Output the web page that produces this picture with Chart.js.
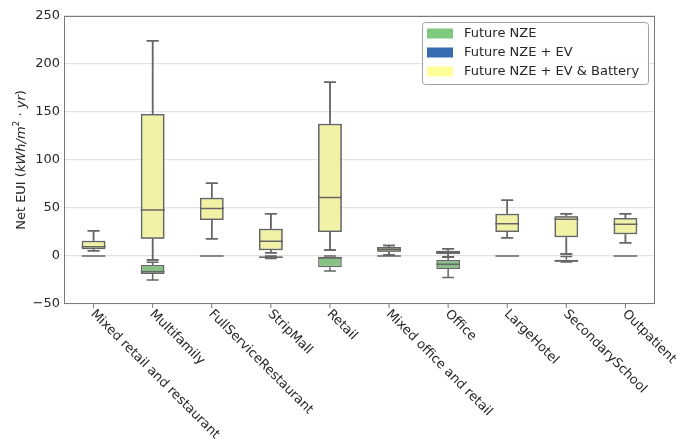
<!DOCTYPE html>
<html>
<head>
<meta charset="utf-8">
<script src="https://cdn.jsdelivr.net/npm/chart.js@4.4.1/dist/chart.umd.min.js"></script>
<style>
  html, body { margin: 0; padding: 0; background: #ffffff; }
  #wrap { width: 688px; height: 444px; }
</style>
</head>
<body>
<div id="wrap"><canvas id="c" width="688" height="444"></canvas></div>
<script>
// Building types along the x axis
const categories = [
  'Mixed retail and restaurant', 'Multifamily', 'FullServiceRestaurant', 'StripMall', 'Retail',
  'Mixed office and retail', 'Office', 'LargeHotel', 'SecondarySchool', 'Outpatient'
];

// Net EUI summaries per building type: [lower whisker, Q1, median, Q3, upper whisker]
const nzeBoxes = [
  [0, 0, 0, 0, 0],
  [-25, -18.8, -16.3, -9.4, -6.5],
  [0, 0, 0, 0, 0],
  [-2.5, -2, -1.2, -0.5, 0],
  [-15.6, -11.8, -2, -0.7, 0],
  [0, 0, 0, 0, 0],
  [-22.5, -13.5, -8.7, -4.2, -1],
  [0, 0, 0, 0, 0],
  [-6.2, -6, -5.2, -3.8, -0.5],
  [0, 0, 0, 0, 0]
];
const nzeEvBoxes = [
  [5.5, 7, 9.7, 16, 26.4],
  [-4.2, 18, 48, 148, 224.3],
  [18, 37.5, 49.6, 60.8, 75.7],
  [3.5, 5.9, 15.3, 28.5, 44],
  [6.2, 25, 61, 137.8, 181],
  [1, 4.5, 7, 9.5, 11],
  [-1, 2, 4, 5.5, 7.5],
  [19, 25, 33.7, 44, 58],
  [2, 19.5, 38.2, 41.3, 44],
  [13.9, 22.6, 33, 39.6, 44]
];
const nzeEvBatteryBoxes = [
  [5.5, 7, 9.7, 16, 26.4],
  [-4.2, 18, 48, 148, 224.3],
  [18, 37.5, 49.6, 60.8, 75.7],
  [3.5, 5.9, 15.3, 28.5, 44],
  [6.2, 25, 61, 137.8, 181],
  [1, 4.5, 7, 9.5, 11],
  [-1, 2, 4, 5.5, 7.5],
  [19, 25, 33.7, 44, 58],
  [2, 19.5, 38.2, 41.3, 44],
  [13.9, 22.6, 33, 39.6, 44]
];

const seriesNames = ['Future NZE', 'Future NZE + EV', 'Future NZE + EV & Battery'];
const yTicks = [-50, 0, 50, 100, 150, 200, 250];

const FONT = 'DejaVu Sans';
const TEXT = '#262626';
const EDGE = '#666666';
const legendColors = ['#7fc97f', '#386cb0', '#ffff99'];
const boxFills = ['#84c284', '#4470a5', '#f2f2a6'];
const seriesBoxes = [nzeBoxes, nzeEvBoxes, nzeEvBatteryBoxes];

const datasets = seriesNames.map((name, i) => ({
  label: name,
  data: seriesBoxes[i].map(b => [b[1], b[3]]),
  stats: seriesBoxes[i],
  backgroundColor: boxFills[i],
  borderColor: EDGE,
  borderWidth: 1.5,
  borderSkipped: false,
  grouped: false,
  barPercentage: 0.4,
  categoryPercentage: 1.0,
  order: seriesNames.length - i
}));

// whiskers, caps and median lines on top of each series' boxes
const whiskerPlugin = {
  id: 'whiskers',
  afterDatasetDraw(chart, args) {
    const ds = chart.data.datasets[args.index];
    const y = chart.scales.y;
    const ctx = chart.ctx;
    ctx.save();
    ctx.strokeStyle = EDGE;
    ctx.lineWidth = 1.5;
    args.meta.data.forEach((bar, i) => {
      const { x, width } = bar.getProps(['x', 'width'], true);
      const [lo, q1, med, q3, hi] = ds.stats[i];
      const pLo = y.getPixelForValue(lo), pQ1 = y.getPixelForValue(q1);
      const pMed = y.getPixelForValue(med), pQ3 = y.getPixelForValue(q3);
      const pHi = y.getPixelForValue(hi);
      const cap = width / 4;
      ctx.beginPath();
      ctx.moveTo(x, pQ3); ctx.lineTo(x, pHi);
      ctx.moveTo(x, pQ1); ctx.lineTo(x, pLo);
      ctx.moveTo(x - cap, pHi); ctx.lineTo(x + cap, pHi);
      ctx.moveTo(x - cap, pLo); ctx.lineTo(x + cap, pLo);
      ctx.moveTo(x - width / 2, pMed); ctx.lineTo(x + width / 2, pMed);
      ctx.stroke();
    });
    ctx.restore();
  }
};

// frame, rotated category labels, axis title and legend
const decorPlugin = {
  id: 'decor',
  afterDraw(chart) {
    const ctx = chart.ctx;
    const a = chart.chartArea;
    const xs = chart.scales.x;
    ctx.save();

    // plot frame
    ctx.strokeStyle = '#7a7a7a';
    ctx.lineWidth = 1;
    ctx.strokeRect(a.left + 0.5, a.top + 0.5, a.right - a.left - 1, a.bottom - a.top - 1);

    // x ticks and labels
    ctx.fillStyle = TEXT;
    ctx.font = '13px "' + FONT + '"';
    categories.forEach((c, i) => {
      const px = xs.getPixelForTick(i);
      ctx.beginPath();
      ctx.moveTo(px, a.bottom);
      ctx.lineTo(px, a.bottom + 4);
      ctx.stroke();
      ctx.save();
      ctx.translate(px - 1, a.bottom + 8);
      ctx.rotate(Math.PI / 4);
      ctx.textAlign = 'left';
      ctx.textBaseline = 'middle';
      ctx.fillText(c, 0, 0);
      ctx.restore();
    });

    // y axis title: Net EUI (kWh/m^2 · yr)
    const parts = [
      { t: 'Net EUI (', f: '13px "' + FONT + '"', dy: 0 },
      { t: 'kWh/m', f: 'italic 13px "' + FONT + '"', dy: 0 },
      { t: '2', f: '9px "' + FONT + '"', dy: -5 },
      { t: ' \u00b7 ', f: '13px "' + FONT + '"', dy: 0 },
      { t: 'yr', f: 'italic 13px "' + FONT + '"', dy: 0 },
      { t: ')', f: '13px "' + FONT + '"', dy: 0 }
    ];
    let total = 0;
    parts.forEach(p => { ctx.font = p.f; p.w = ctx.measureText(p.t).width; total += p.w; });
    ctx.save();
    ctx.translate(22, (a.top + a.bottom) / 2);
    ctx.rotate(-Math.PI / 2);
    ctx.textBaseline = 'middle';
    ctx.textAlign = 'left';
    let cx = -total / 2;
    parts.forEach(p => { ctx.font = p.f; ctx.fillText(p.t, cx, p.dy); cx += p.w; });
    ctx.restore();

    // legend
    const lx = 422.5, ly = 22.5, lw = 226, lh = 62;
    ctx.beginPath();
    ctx.roundRect(lx, ly, lw, lh, 3);
    ctx.fillStyle = 'rgba(255,255,255,0.85)';
    ctx.fill();
    ctx.strokeStyle = '#a0a0a0';
    ctx.stroke();
    ctx.font = '13px "' + FONT + '"';
    ctx.textBaseline = 'middle';
    seriesNames.forEach((n, i) => {
      const ry = 33.5 + i * 19;
      ctx.fillStyle = legendColors[i];
      ctx.fillRect(427, ry - 5, 26, 10);
      ctx.fillStyle = TEXT;
      ctx.fillText(n, 464, ry);
    });
    ctx.restore();
  }
};

new Chart(document.getElementById('c'), {
  type: 'bar',
  data: { labels: categories, datasets },
  options: {
    responsive: false,
    animation: false,
    devicePixelRatio: 1,
    layout: { padding: { top: 16, right: 33, left: 0, bottom: 0 } },
    plugins: { legend: { display: false }, tooltip: { enabled: false } },
    scales: {
      x: {
        ticks: { display: false },
        grid: { display: false },
        border: { display: false },
        afterFit(scale) { scale.height = 140; }
      },
      y: {
        min: -50,
        max: 250,
        z: 1,
        afterBuildTicks(scale) { scale.ticks = yTicks.map(v => ({ value: v })); },
        ticks: {
          font: { family: FONT, size: 13 },
          color: TEXT,
          padding: 4,
          callback: v => String(v).replace('-', '\u2212')
        },
        grid: { color: '#e2e2e2', lineWidth: 1.2, drawTicks: false },
        border: { display: false },
        afterFit(scale) { scale.width = 64; }
      }
    }
  },
  plugins: [whiskerPlugin, decorPlugin]
});
</script>
</body>
</html>
